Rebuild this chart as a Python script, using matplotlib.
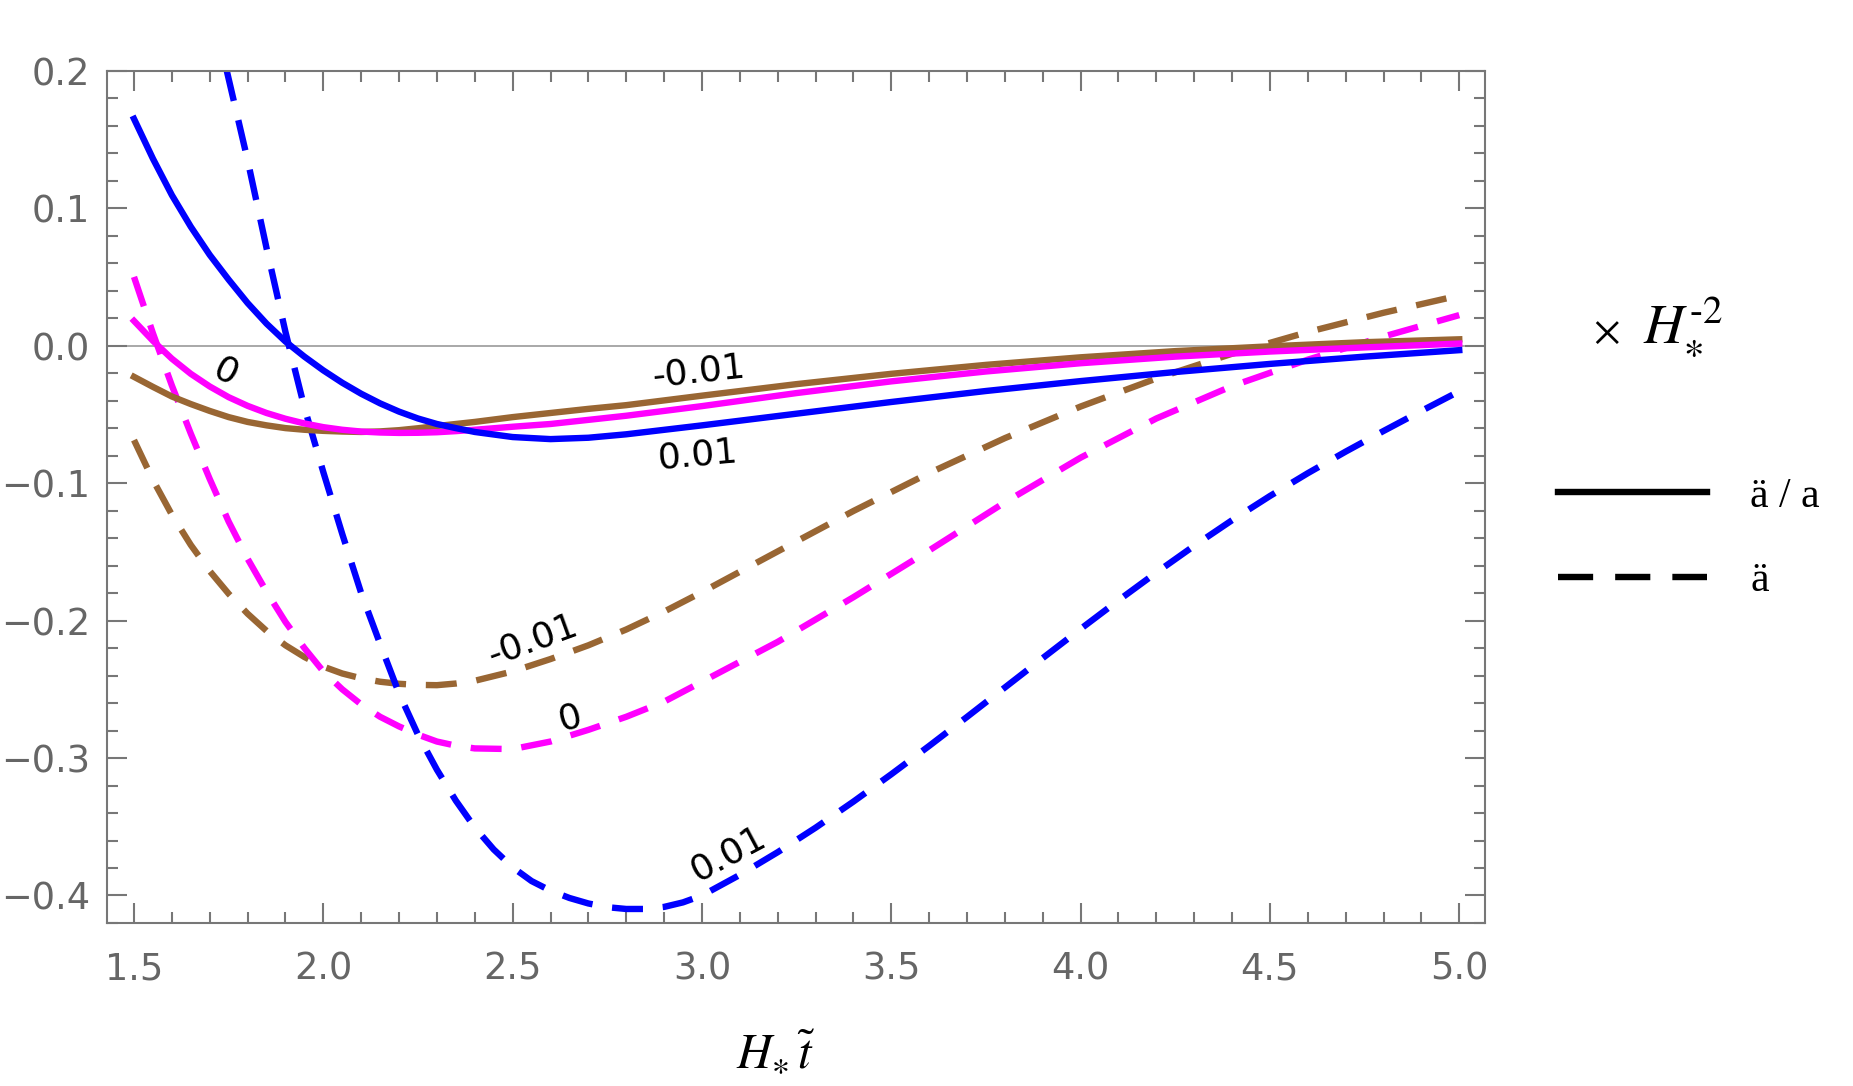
import matplotlib
matplotlib.use("Agg")
import matplotlib.pyplot as plt
import numpy as np
from matplotlib.lines import Line2D
from matplotlib.ticker import MultipleLocator

plt.rcParams['font.family'] = ['DejaVu Sans']
plt.rcParams['mathtext.fontset'] = 'stix'

# a''/a  (solid) -- common x grid
x_solid = [1.5, 1.55, 1.6, 1.65, 1.7, 1.75, 1.8, 1.85, 1.9, 1.95, 2.0, 2.05, 2.1, 2.15,
           2.2, 2.25, 2.3, 2.35, 2.4, 2.5, 2.6, 2.7, 2.8, 3.0, 3.25, 3.5, 3.75, 4.0,
           4.25, 4.5, 4.75, 5.0]
ratio_p01 = [0.165, 0.136, 0.1095, 0.0865, 0.066, 0.048, 0.031, 0.016, 0.003, -0.008,
             -0.018, -0.027, -0.035, -0.042, -0.048, -0.053, -0.057, -0.060, -0.0628,
             -0.0665, -0.068, -0.067, -0.0645, -0.058, -0.0495, -0.041, -0.033, -0.0258,
             -0.0192, -0.0133, -0.008, -0.0033]
ratio_0 = [0.018, 0.0035, -0.0095, -0.0205, -0.0297, -0.0375, -0.0438, -0.049, -0.0532,
           -0.0566, -0.0593, -0.0612, -0.0625, -0.0632, -0.0635, -0.0634, -0.063, -0.0622,
           -0.0612, -0.059, -0.057, -0.054, -0.051, -0.044, -0.0345, -0.026, -0.0188,
           -0.0128, -0.008, -0.0043, -0.0013, 0.0015]
ratio_m01 = [-0.0227, -0.030, -0.037, -0.0425, -0.0475, -0.052, -0.0555, -0.058, -0.060,
             -0.0612, -0.062, -0.0625, -0.0628, -0.0624, -0.0615, -0.0601, -0.0585, -0.057,
             -0.0555, -0.052, -0.049, -0.046, -0.0433, -0.0364, -0.028, -0.0205, -0.014,
             -0.0085, -0.004, -0.0005, 0.0025, 0.0046]

# a'' (dashed)
x_dd_p01 = [1.745, 1.80, 1.85, 1.90, 1.95, 2.0, 2.05, 2.10, 2.15, 2.20, 2.25, 2.30, 2.35,
            2.40, 2.45, 2.50, 2.55, 2.60, 2.65, 2.70, 2.75, 2.80, 2.85, 2.90, 2.95, 3.00,
            3.10, 3.20, 3.30, 3.40, 3.50, 3.60, 3.70, 3.80, 3.90, 4.00, 4.10, 4.20, 4.30,
            4.40, 4.50, 4.60, 4.70, 4.80, 4.90, 5.00]
dd_p01 = [0.200, 0.135, 0.071, 0.010, -0.045, -0.092, -0.137, -0.180, -0.217, -0.253,
          -0.283, -0.3085, -0.331, -0.3505, -0.3665, -0.3795, -0.3895, -0.3965, -0.4018,
          -0.4058, -0.4085, -0.4098, -0.4098, -0.4083, -0.405, -0.400, -0.385, -0.3685,
          -0.3507, -0.3317, -0.3118, -0.2912, -0.2701, -0.2487, -0.2273, -0.2061, -0.1853,
          -0.1651, -0.1456, -0.127, -0.1094, -0.0928, -0.0771, -0.0621, -0.0475, -0.0332]

x_dd = [1.5, 1.55, 1.6, 1.65, 1.7, 1.75, 1.8, 1.85, 1.9, 1.95, 2.0, 2.05, 2.1, 2.15, 2.2,
        2.25, 2.3, 2.35, 2.4, 2.5, 2.6, 2.7, 2.8, 2.9, 3.0, 3.2, 3.4, 3.6, 3.8, 4.0, 4.2,
        4.4, 4.6, 4.8, 5.0]
dd_0 = [0.050, 0.009, -0.029, -0.064, -0.097, -0.128, -0.155, -0.179, -0.201, -0.220,
        -0.237, -0.250, -0.261, -0.270, -0.277, -0.283, -0.288, -0.291, -0.293, -0.2935,
        -0.288, -0.2795, -0.270, -0.259, -0.2445, -0.2155, -0.183, -0.149, -0.114,
        -0.0815, -0.053, -0.0294, -0.0102, 0.0066, 0.0222]
dd_m01 = [-0.0687, -0.0977, -0.123, -0.145, -0.164, -0.1805, -0.195, -0.2075, -0.218,
          -0.2265, -0.2335, -0.2385, -0.242, -0.2445, -0.246, -0.2468, -0.247, -0.2458,
          -0.2438, -0.237, -0.228, -0.218, -0.2065, -0.1935, -0.1793, -0.1497, -0.1203,
          -0.0927, -0.0673, -0.0443, -0.0239, -0.0059, 0.0099, 0.0239, 0.0365]

blue = '#0000ff'
magenta = '#ff00ff'
brown = '#996633'

# curve labels
lab_text = ['0', '-0.01', '0.01', '-0.01', '0', '0.01']
lab_x = [1.742, 2.99, 2.99, 2.554, 2.652, 3.07]
lab_y = [-0.019, -0.0193, -0.0796, -0.214, -0.271, -0.3695]
lab_rot = [-27, 6, 5, 20, 15, 28]

fig = plt.figure(figsize=(18.53, 10.86), dpi=100)
ax = fig.add_axes([0.0576, 0.1501, 0.7438, 0.7848])

lw = 4.6
dash = (0, (4.85, 3.1))
ax.axhline(0, color='#999999', lw=1.2, zorder=1)
ax.plot(x_solid, ratio_m01, color=brown, lw=lw, zorder=3)
ax.plot(x_solid, ratio_0, color=magenta, lw=lw, zorder=3)
ax.plot(x_solid, ratio_p01, color=blue, lw=lw, zorder=3)
ax.plot(x_dd, dd_m01, color=brown, lw=lw, ls=dash, dash_capstyle='butt', zorder=2)
ax.plot(x_dd, dd_0, color=magenta, lw=lw, ls=dash, dash_capstyle='butt', zorder=2)
ax.plot(x_dd_p01, dd_p01, color=blue, lw=lw, ls=dash, dash_capstyle='butt', zorder=2)

for t, x, y, r in zip(lab_text, lab_x, lab_y, lab_rot):
    ax.text(x, y, t, fontsize=26, rotation=r, rotation_mode='anchor',
            ha='center', va='center', color='black', zorder=4)

ax.set_xlim(1.428, 5.068)
ax.set_ylim(-0.42, 0.2)

xt = np.arange(1.5, 5.01, 0.5)
yt = np.arange(-0.4, 0.21, 0.1)
ax.set_xticks(xt)
ax.set_xticklabels([f'{v:.1f}' for v in xt])
ax.set_yticks(yt)
ax.set_yticklabels([f'{v:.1f}'.replace('-', '\u2212') if abs(v) > 1e-9 else '0.0' for v in yt])
ax.xaxis.set_minor_locator(MultipleLocator(0.1))
ax.yaxis.set_minor_locator(MultipleLocator(0.02))

spine_c = '#777777'
for s in ax.spines.values():
    s.set_color(spine_c)
    s.set_linewidth(1.5)
ax.tick_params(which='both', direction='in', top=True, right=True, color=spine_c, width=1.5,
               labelsize=26.5, labelcolor='#666666')
ax.tick_params(which='major', length=14.4)
ax.tick_params(which='minor', length=8)
ax.tick_params(axis='x', pad=20)
ax.tick_params(axis='y', pad=12)

fig.text(0.4188, 0.0166, r'$H_{\ast}\,\tilde{t}$', fontsize=35, ha='center', va='baseline')
fig.text(0.8597, 0.684, r'$\times$', fontsize=30, va='baseline')
fig.text(0.8867, 0.684, '$H_{\\ast}^{\u2010 2}$', fontsize=40, va='baseline')

handles = [Line2D([], [], color='black', lw=lw),
           Line2D([], [], color='black', lw=lw, ls=(0, (5.5, 3.45)), dash_capstyle='butt')]
fig.legend(handles, ['ä / a', 'ä'], loc='center left', bbox_to_anchor=(0.8408, 0.5037),
           frameon=False, prop={'family': 'Liberation Serif', 'size': 30},
           handlelength=3.58, handletextpad=1.03, labelspacing=1.1,
           borderpad=0, borderaxespad=0)

fig.savefig('out.png', dpi=100)
